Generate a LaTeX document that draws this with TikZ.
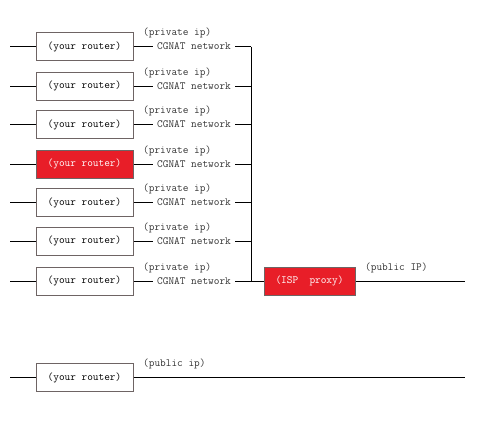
\documentclass[tikz,border=0pt]{standalone}
\usepackage{fontspec}
\usepackage{xcolor}
\definecolor{boxred}{RGB}{232, 30, 40}
\definecolor{boxedge}{RGB}{110, 100, 100}

\begin{document}
\begin{tikzpicture}[
    x=1pt, y=1pt,
    font=\ttfamily\fontsize{11}{13}\selectfont,
    router/.style={draw=boxedge, fill=#1, line width=1pt, minimum width=97pt, minimum height=28pt, inner sep=0pt},
    router/.default=white,
    note/.style={text=black!80, inner sep=0pt, anchor=west},
    wire/.style={line width=1pt, black}
]

    \useasboundingbox (0,0) rectangle (500,-434);

    % Routers behind the CGNAT
    \node[router] (r1) at (84.5, -46.5) {(your router)};
    \node[router] (r2) at (84.5, -86) {(your router)};
    \node[router] (r3) at (84.5, -124.5) {(your router)};
    \node[router=boxred, text=white] (r4) at (84.5, -164) {(your router)};
    \node[router] (r5) at (84.5, -202.5) {(your router)};
    \node[router] (r6) at (84.5, -241) {(your router)};
    \node[router] (r7) at (84.5, -281) {(your router)};

    % Router with its own address
    \node[router] (r8) at (84.5, -377.5) {(your router)};

    % ISP proxy
    \node[router=boxred, text=white, minimum width=91pt] (isp) at (309.5, -281) {(ISP~~proxy)};

    % CGNAT labels
    \node[note] (c1) at (157, -46.5) {CGNAT network};
    \node[note] (c2) at (157, -86) {CGNAT network};
    \node[note] (c3) at (157, -124.5) {CGNAT network};
    \node[note] (c4) at (157, -164) {CGNAT network};
    \node[note] (c5) at (157, -202.5) {CGNAT network};
    \node[note] (c6) at (157, -241) {CGNAT network};
    \node[note] (c7) at (157, -281) {CGNAT network};

    \node[note] (p1) at (143, -33) {(private ip)};
    \node[note] (p2) at (143, -72.5) {(private ip)};
    \node[note] (p3) at (143, -111) {(private ip)};
    \node[note] (p4) at (143, -150.5) {(private ip)};
    \node[note] (p5) at (143, -189) {(private ip)};
    \node[note] (p6) at (143, -227.5) {(private ip)};
    \node[note] (p7) at (143, -267.5) {(private ip)};
    \node[note] (pub) at (365, -267.5) {(public IP)};
    \node[note] (own) at (143, -364) {(public ip)};

    % Free ends
    \coordinate (in1) at (10, -46.5);
    \coordinate (in2) at (10, -86);
    \coordinate (in3) at (10, -124.5);
    \coordinate (in4) at (10, -164);
    \coordinate (in5) at (10, -202.5);
    \coordinate (in6) at (10, -241);
    \coordinate (in7) at (10, -281);
    \coordinate (in8) at (10, -377.5);

    \coordinate (bus1) at (251, -46.5);
    \coordinate (bus2) at (251, -86);
    \coordinate (bus3) at (251, -124.5);
    \coordinate (bus4) at (251, -164);
    \coordinate (bus5) at (251, -202.5);
    \coordinate (bus6) at (251, -241);
    \coordinate (bus7) at (251, -281);

    \coordinate (out1) at (465, -281);
    \coordinate (out2) at (465, -377.5);

    % Wires
    \draw[wire] (in1) -- (r1.west);
    \draw[wire] (in2) -- (r2.west);
    \draw[wire] (in3) -- (r3.west);
    \draw[wire] (in4) -- (r4.west);
    \draw[wire] (in5) -- (r5.west);
    \draw[wire] (in6) -- (r6.west);
    \draw[wire] (in7) -- (r7.west);
    \draw[wire] (in8) -- (r8.west);

    \draw[wire] (r1.east) -- ([xshift=-4pt]c1.west);
    \draw[wire] (r2.east) -- ([xshift=-4pt]c2.west);
    \draw[wire] (r3.east) -- ([xshift=-4pt]c3.west);
    \draw[wire] (r4.east) -- ([xshift=-4pt]c4.west);
    \draw[wire] (r5.east) -- ([xshift=-4pt]c5.west);
    \draw[wire] (r6.east) -- ([xshift=-4pt]c6.west);
    \draw[wire] (r7.east) -- ([xshift=-4pt]c7.west);

    \draw[wire] ([xshift=4pt]c1.east) -- (bus1);
    \draw[wire] ([xshift=4pt]c2.east) -- (bus2);
    \draw[wire] ([xshift=4pt]c3.east) -- (bus3);
    \draw[wire] ([xshift=4pt]c4.east) -- (bus4);
    \draw[wire] ([xshift=4pt]c5.east) -- (bus5);
    \draw[wire] ([xshift=4pt]c6.east) -- (bus6);
    \draw[wire] ([xshift=4pt]c7.east) -- (bus7);

    \draw[wire] (bus1) -- (bus7) -- (isp.west);
    \draw[wire] (isp.east) -- (out1);
    \draw[wire] (r8.east) -- (out2);

\end{tikzpicture}
\end{document}
